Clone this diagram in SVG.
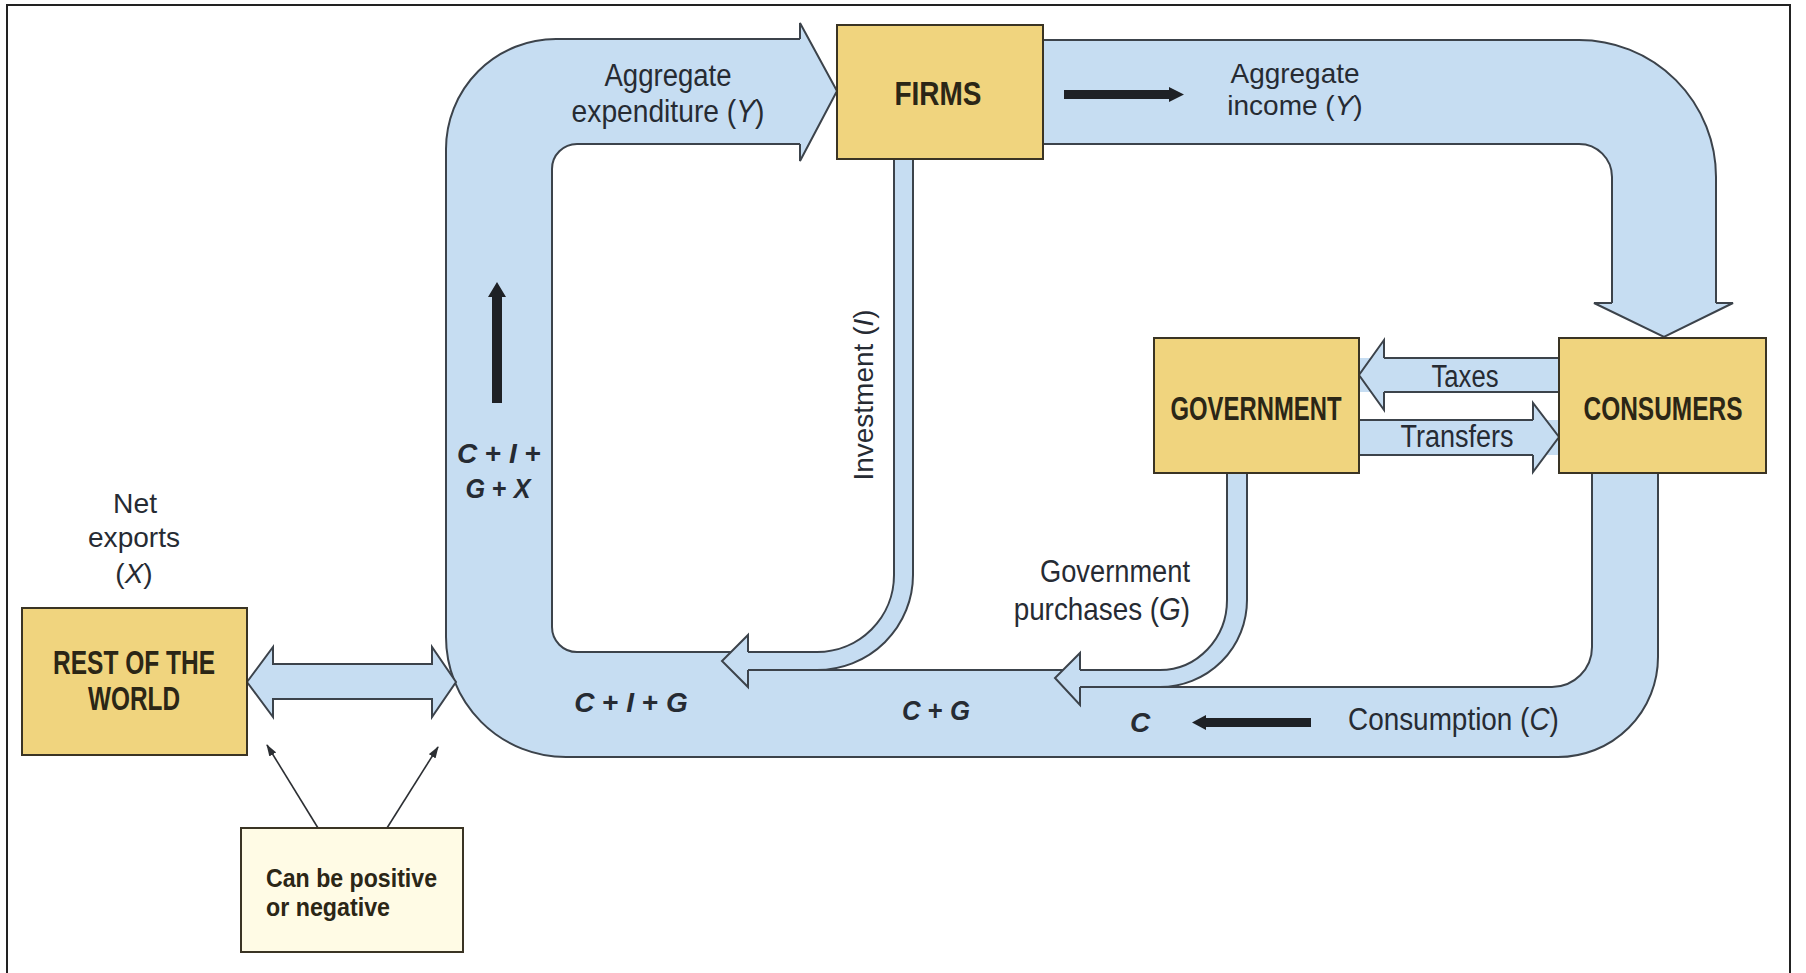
<svg xmlns="http://www.w3.org/2000/svg" width="1806" height="973" viewBox="0 0 1806 973">
<defs>
<style>
.band{fill:#c6ddf2;stroke:none}
.edge{fill:none;stroke:#3c434b;stroke-width:2;stroke-linejoin:round}
.head{fill:#c6ddf2;stroke:#3c434b;stroke-width:2;stroke-linejoin:miter}
.box{fill:#f0d47e;stroke:#3a3424;stroke-width:2}
.note{fill:#fffbe5;stroke:#3a3424;stroke-width:2}
.blk{fill:#1e2126}
.thin{fill:none;stroke:#2c2f33;stroke-width:1.6}
.bl{font-family:"Liberation Sans",Arial,sans-serif;font-weight:bold;font-size:33px;fill:#2b2616;text-anchor:middle}
.lb{font-family:"Liberation Sans",Arial,sans-serif;font-size:31px;fill:#262b33}
.sm{font-size:28px}
.mid{text-anchor:middle}
.end{text-anchor:end}
.mth{font-family:"Liberation Sans",Arial,sans-serif;font-size:28px;font-weight:bold;fill:#262b33}
.it{font-style:italic}
.nt{font-family:"Liberation Sans",Arial,sans-serif;font-weight:bold;font-size:26px;fill:#2b2616}
</style>
<marker id="ah" viewBox="0 0 12 8" refX="11" refY="4" markerWidth="12" markerHeight="8" markerUnits="userSpaceOnUse" orient="auto">
<path d="M0,0 L12,4 L0,8 Z" fill="#2c2f33"/>
</marker>
</defs>
<rect x="0" y="0" width="1806" height="973" fill="#ffffff"/>
<rect x="7" y="5" width="1783" height="995" fill="none" stroke="#222" stroke-width="2"/>

<g id="connectors">
<path class="band" d="M800,39 L556,39 A110 110 0 0 0 446,149 L446,637 A120 120 0 0 0 566,757 L1558,757 A100 100 0 0 0 1658,657 L1658,472 L1592,472 L1592,647 A40 40 0 0 1 1552,687 L1160,687 A87 87 0 0 0 1247,600 L1247,472 L1227,472 L1227,600 A67 70 0 0 1 1160,670 L817,670 A96 95 0 0 0 913,575 L913,159 L894,159 L894,575 A77 77 0 0 1 817,652 L577,652 A25 25 0 0 1 552,627 L552,169 A25 25 0 0 1 577,144 L800,144 Z"/>
<path class="band" d="M1043,40 L1579,40 A137 137 0 0 1 1716,177 L1716,303 L1612,303 L1612,177 A33 33 0 0 0 1579,144 L1043,144 Z"/>
<path class="band" d="M1359,358 L1559,358 L1559,392 L1359,392 Z M1359,420 L1559,420 L1559,455 L1359,455 Z"/>
<path class="edge" d="M800,39 L556,39 A110 110 0 0 0 446,149 L446,637 A120 120 0 0 0 566,757 L1558,757 A100 100 0 0 0 1658,657 L1658,472"/>
<path class="edge" d="M1592,472 L1592,647 A40 40 0 0 1 1552,687 L1080,687"/>
<path class="edge" d="M1160,687 A87 87 0 0 0 1247,600 L1247,472"/>
<path class="edge" d="M1227,472 L1227,600 A67 70 0 0 1 1160,670 L817,670 A96 95 0 0 0 913,575 L913,159"/>
<path class="edge" d="M817,670 L748,670"/>
<path class="edge" d="M894,159 L894,575 A77 77 0 0 1 817,652 L577,652 A25 25 0 0 1 552,627 L552,169 A25 25 0 0 1 577,144 L800,144"/>
<path class="edge" d="M1043,40 L1579,40 A137 137 0 0 1 1716,177 L1716,303"/>
<path class="edge" d="M1043,144 L1579,144 A33 33 0 0 1 1612,177 L1612,303"/>
<path class="edge" d="M1559,358 L1384,358 M1559,392 L1384,392 M1359,420 L1533,420 M1359,455 L1533,455"/>
<polyline class="head" points="800,39 800,23 837,91 800,161 800,144"/>
<polyline class="head" points="1716,303 1733,303 1664,337 1594,303 1612,303"/>
<polyline class="head" points="748,652 748,635 722,661 748,687 748,670"/>
<polyline class="head" points="1080,670 1080,653 1055,678 1080,705 1080,687"/>
<polyline class="head" points="1384,358 1384,340 1359,375 1384,410 1384,392"/>
<polyline class="head" points="1533,420 1533,403 1559,437 1533,472 1533,455"/>
<polygon class="head" points="247,682 273,647 273,664 432,664 432,647 456,682 432,717 432,699 273,699 273,717"/>
<line class="thin" x1="318" y1="828" x2="267" y2="745" marker-end="url(#ah)"/>
<line class="thin" x1="387" y1="828" x2="438" y2="747" marker-end="url(#ah)"/>
<polygon class="blk" points="492,403 492,297 488,297 497,282 506,297 502,297 502,403"/>
<polygon class="blk" points="1064,90 1169,90 1169,87 1184,94.5 1169,102 1169,99 1064,99"/>
<polygon class="blk" points="1311,718 1206,718 1206,715 1192,722.5 1206,730 1206,727 1311,727"/>
</g>

<g id="firms">
<rect class="box" x="837" y="25" width="206" height="134"/>
<text class="bl" x="938" y="105" textLength="87" lengthAdjust="spacingAndGlyphs">FIRMS</text>
</g>
<g id="government">
<rect class="box" x="1154" y="338" width="205" height="135"/>
<text class="bl" x="1256" y="420" textLength="171" lengthAdjust="spacingAndGlyphs">GOVERNMENT</text>
</g>
<g id="consumers">
<rect class="box" x="1559" y="338" width="207" height="135"/>
<text class="bl" x="1663" y="420" textLength="159" lengthAdjust="spacingAndGlyphs">CONSUMERS</text>
</g>
<g id="rest-of-world">
<rect class="box" x="22" y="608" width="225" height="147"/>
<text class="bl" x="134" y="674" textLength="162" lengthAdjust="spacingAndGlyphs">REST OF THE</text>
<text class="bl" x="134" y="710" textLength="92" lengthAdjust="spacingAndGlyphs">WORLD</text>
</g>
<g id="note">
<rect class="note" x="241" y="828" width="222" height="124"/>
<text class="nt" x="266" y="887" textLength="171" lengthAdjust="spacingAndGlyphs">Can be positive</text>
<text class="nt" x="266" y="916" textLength="124" lengthAdjust="spacingAndGlyphs">or negative</text>
</g>

<g id="labels">
<text class="lb mid" x="668" y="86" textLength="127" lengthAdjust="spacingAndGlyphs">Aggregate</text>
<text class="lb mid" transform="translate(668,122) scale(0.91,1)">expenditure (<tspan class="it">Y</tspan>)</text>
<text class="lb sm mid" x="1295" y="83" textLength="129" lengthAdjust="spacingAndGlyphs">Aggregate</text>
<text class="lb sm mid" x="1295" y="115">income (<tspan class="it">Y</tspan>)</text>
<text class="lb mid" x="1465" y="387" textLength="67" lengthAdjust="spacingAndGlyphs">Taxes</text>
<text class="lb mid" x="1457" y="447" textLength="113" lengthAdjust="spacingAndGlyphs">Transfers</text>
<text class="lb sm mid" transform="translate(873,395) rotate(-90)">Investment (<tspan class="it">I</tspan>)</text>
<text class="lb sm mid" x="135" y="513" textLength="44" lengthAdjust="spacingAndGlyphs">Net</text>
<text class="lb sm mid" x="134" y="547" textLength="92" lengthAdjust="spacingAndGlyphs">exports</text>
<text class="lb sm mid" x="134" y="583">(<tspan class="it">X</tspan>)</text>
<text class="lb end" x="1190" y="582" textLength="150" lengthAdjust="spacingAndGlyphs">Government</text>
<text class="lb end" transform="translate(1190,620) scale(0.898,1)">purchases (<tspan class="it">G</tspan>)</text>
<text class="lb" transform="translate(1348,730) scale(0.9,1)">Consumption (<tspan class="it">C</tspan>)</text>
<text class="mth mid" x="499" y="463"><tspan class="it">C</tspan> + <tspan class="it">I</tspan> +</text>
<text class="mth mid" transform="translate(498,498) scale(0.9,1)"><tspan class="it">G</tspan> + <tspan class="it">X</tspan></text>
<text class="mth mid" x="631" y="712"><tspan class="it">C</tspan> + <tspan class="it">I</tspan> + <tspan class="it">G</tspan></text>
<text class="mth mid" transform="translate(936,720) scale(0.92,1)"><tspan class="it">C</tspan> + <tspan class="it">G</tspan></text>
<text class="mth mid it" x="1140" y="732">C</text>
</g>
</svg>
